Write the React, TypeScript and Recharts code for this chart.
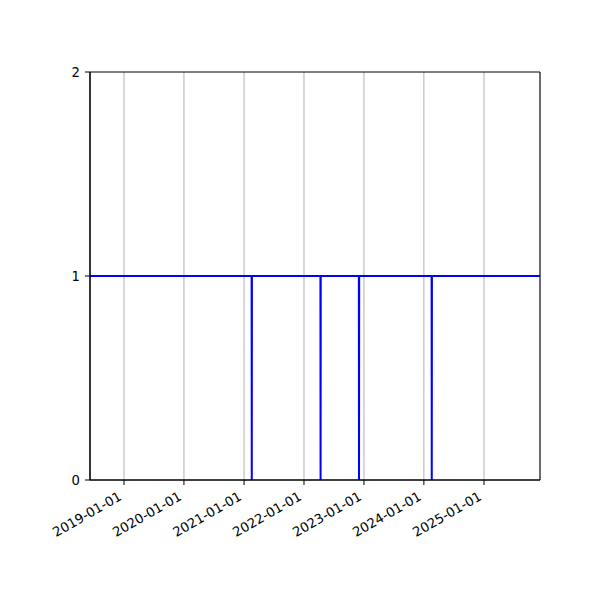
import { CartesianGrid, Line, LineChart, ReferenceArea, XAxis, YAxis } from "recharts";

// status series: 1 = up, 0 = down (single-day outages)
const dates = [
  "2018-06-08",
  "2021-02-16",
  "2021-02-17",
  "2021-02-18",
  "2022-04-11",
  "2022-04-12",
  "2022-04-13",
  "2022-12-01",
  "2022-12-02",
  "2022-12-03",
  "2024-02-17",
  "2024-02-18",
  "2024-02-19",
  "2025-12-08",
];
const values = [1, 1, 0, 1, 1, 0, 1, 1, 0, 1, 1, 0, 1, 1];

const xTicks = [
  "2019-01-01",
  "2020-01-01",
  "2021-01-01",
  "2022-01-01",
  "2023-01-01",
  "2024-01-01",
  "2025-01-01",
];
const yTicks = [0, 1, 2];

const toTime = (d: string) => new Date(d + "T00:00:00Z").getTime();

const data = dates.map((d, i) => ({ t: toTime(d), v: values[i] }));

function formatDate(t: number) {
  return new Date(t).toISOString().slice(0, 10);
}

const FONT = "DejaVu Sans";

function DateTick(props: any) {
  const { x, payload } = props;
  return (
    <g transform={`translate(${x - 1.5},${499})`}>
      <text
        transform="rotate(-30)"
        textAnchor="end"
        fontFamily={FONT}
        fontSize={13.2}
        fill="#000"
      >
        {formatDate(payload.value)}
      </text>
    </g>
  );
}

export default function App() {
  return (
    <div style={{ position: "absolute", left: 0, top: 0, width: 600, height: 600, background: "#fff" }}>
      <LineChart
        width={600}
        height={600}
        data={data}
        margin={{ top: 72, right: 60, bottom: 0, left: 50 }}
      >
        <CartesianGrid horizontal={false} stroke="#b0b0b0" strokeWidth={1} />
        <XAxis
          dataKey="t"
          type="number"
          scale="time"
          domain={[toTime(dates[0]), toTime(dates[dates.length - 1])]}
          ticks={xTicks.map(toTime)}
          tick={<DateTick />}
          tickSize={5}
          height={120}
          stroke="#000"
          interval={0}
        />
        <YAxis
          domain={[0, 2]}
          ticks={yTicks}
          width={40}
          tickSize={5}
          tickMargin={5}
          stroke="#000"
          tick={{ fill: "#000", fontFamily: FONT, fontSize: 13.2 }}
        />
        <Line
          type="linear"
          dataKey="v"
          stroke="#0000ff"
          strokeWidth={2}
          dot={false}
          isAnimationActive={false}
        />
        <ReferenceArea
          y1={0}
          y2={2}
          fill="none"
          fillOpacity={0}
          stroke="#000"
          strokeWidth={1}
          ifOverflow="visible"
        />
      </LineChart>
    </div>
  );
}
